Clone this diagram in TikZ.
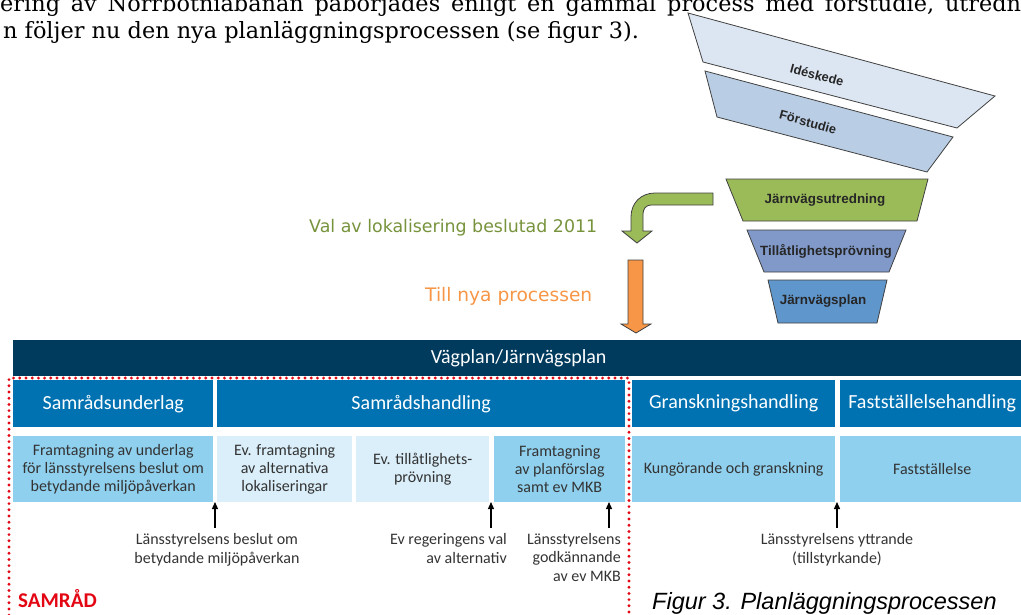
\documentclass[tikz,border=0pt]{standalone}
\usepackage{fontspec}
\setmainfont{DejaVu Serif}
\newfontfamily\tvfont{Carlito}
\newfontfamily\arialfont{Liberation Sans}
\newfontfamily\verdfont{DejaVu Sans}
\usetikzlibrary{arrows.meta}
\usepackage{color}
\definecolor{navy}{HTML}{003A5D}
\definecolor{hdrblue}{HTML}{0072B2}
\definecolor{rowmid}{HTML}{8FD0EE}
\definecolor{rowlight}{HTML}{DAEFFA}
\definecolor{samred}{HTML}{E30613}
\definecolor{idecol}{HTML}{DCE6F2}
\definecolor{forcol}{HTML}{B9CDE5}
\definecolor{utrcol}{HTML}{9BBB59}
\definecolor{tillcol}{HTML}{8099C9}
\definecolor{plancol}{HTML}{5F96CC}
\definecolor{funline}{HTML}{404040}
\definecolor{valgreen}{HTML}{77933C}
\definecolor{tillorange}{HTML}{F79646}
\definecolor{txtgray}{HTML}{333333}

\begin{document}
\begin{tikzpicture}[x=1pt,y=-1pt,
    hdr/.style={fill=hdrblue,text=white,font=\tvfont\fontsize{20}{24}\selectfont,
      minimum height=47,inner sep=0,anchor=north west},
    cellmid/.style={fill=rowmid,text=txtgray,font=\tvfont\fontsize{16}{18.3}\selectfont,
      align=center,minimum height=66,inner sep=0,anchor=north west},
    celllight/.style={cellmid,fill=rowlight},
    lbl/.style={text=txtgray,font=\tvfont\fontsize{16}{18.3}\selectfont,inner sep=0},
    funnel/.style={draw=funline,line width=0.8pt},
    funtext/.style={font=\arialfont\bfseries\fontsize{13.4}{15}\selectfont,text=black!85,inner sep=0},
    upar/.style={line width=1.3pt,-{Triangle[length=7pt,width=6pt]}}]
        \useasboundingbox (0,0) rectangle (1021,614);

        % running text above the figure
        \node[anchor=base west,inner sep=0,font=\fontsize{22.4}{27}\selectfont] (txt1) at (0,11)
          {\spaceskip=10.8pt ering av Norrbotniabanan påbörjades enligt en gammal process med förstudie, utredn};
        \node[anchor=base west,inner sep=0,font=\fontsize{22.4}{27}\selectfont] (txt2) at (3,38)
          {n följer nu den nya planläggningsprocessen (se figur 3).};

        % funnel
        \filldraw[funnel,fill=idecol] (688,13) -- (995,96) -- (957,128) -- (703,62) -- cycle;
        \filldraw[funnel,fill=forcol] (705,71) -- (953,137) -- (927,172) -- (717,117) -- cycle;
        \filldraw[funnel,fill=utrcol] (726,179) -- (928,179) -- (917,221) -- (743,221) -- cycle;
        \filldraw[funnel,fill=tillcol] (747,230) -- (906,230) -- (889,272) -- (764,272) -- cycle;
        \filldraw[funnel,fill=plancol] (768,280) -- (887,280) -- (877,323) -- (778,323) -- cycle;

        \node[funtext,font=\arialfont\bfseries\fontsize{12.8}{15}\selectfont,rotate=-15] (ideskede) at (817,75) {Idéskede};
        \node[funtext,font=\arialfont\bfseries\fontsize{12.8}{15}\selectfont,rotate=-15] (forstudie) at (808,122) {Förstudie};
        \node[funtext] (utredning) at (825,200) {Järnvägsutredning};
        \node[funtext] (tillatlighet) at (826,251) {Tillåtlighetsprövning};
        \node[funtext] (jvplan) at (823,301) {Järnvägsplan};

        % the two arrows
        \filldraw[funnel,fill=utrcol] (713,193) -- (655,193) .. controls (641,193) and (631,203) .. (631,217)
          -- (631,231) -- (622,231) -- (637,243) -- (652,231) -- (643,231) -- (643,214)
          .. controls (643,209) and (646,205) .. (651,205) -- (713,205) -- cycle;
        \filldraw[funnel,fill=tillorange] (628,260) -- (643,260) -- (643,324) -- (651,324) -- (636,333)
          -- (621,324) -- (628,324) -- cycle;

        \node[anchor=base west,inner sep=0,text=valgreen,font=\verdfont\fontsize{17.4}{20}\selectfont] (valtext) at (309,232)
          {Val av lokalisering beslutad 2011};
        \node[anchor=base west,inner sep=0,text=tillorange,font=\verdfont\fontsize{18.6}{20}\selectfont] (tilltext) at (425,301)
          {Till nya processen};

        % table
        \node[fill=navy,text=white,font=\tvfont\fontsize{20}{24}\selectfont,minimum width=1011,minimum height=36,
          inner sep=0,anchor=north west] (vagplan) at (13,340) {Vägplan/Järnvägsplan};

        \node[hdr,minimum width=200] (sunderlag) at (13,380) {Samrådsunderlag};
        \node[hdr,minimum width=408] (shandling) at (217,380) {Samrådshandling};
        \node[hdr,minimum width=203] (ghandling) at (632,380) {Granskningshandling};
        \node[hdr,minimum width=184] (fhandling) at (840,380) {Fastställelsehandling};

        \node[cellmid,minimum width=200] (framtagning) at (13,436)
          {Framtagning av underlag\\för länsstyrelsens beslut om\\betydande miljöpåverkan};
        \node[celllight,minimum width=135] (evframt) at (217,436) {Ev. framtagning\\av alternativa\\lokaliseringar};
        \node[celllight,minimum width=133] (evtill) at (356,436) {Ev. tillåtlighets-\\prövning};
        \node[cellmid,minimum width=131] (planforslag) at (494,436) {Framtagning\\av planförslag\\samt ev MKB};
        \node[cellmid,minimum width=203] (kungorande) at (632,436) {Kungörande och granskning};
        \node[cellmid,minimum width=184] (faststall) at (840,436) {Fastställelse};

        % decisions
        \coordinate (a1) at (215,528); \coordinate (b1) at (215,502);
        \coordinate (a2) at (491,528); \coordinate (b2) at (491,502);
        \coordinate (a3) at (609,528); \coordinate (b3) at (609,502);
        \coordinate (a4) at (837,528); \coordinate (b4) at (837,502);
        \draw[upar] (a1) -- (b1);
        \draw[upar] (a2) -- (b2);
        \draw[upar] (a3) -- (b3);
        \draw[upar] (a4) -- (b4);

        \node[lbl,align=center,anchor=base] (beslut) at (217,563) {Länsstyrelsens beslut om\\betydande miljöpåverkan};
        \node[lbl,align=right,anchor=base east] (regering) at (507,563) {Ev regeringens val\\av alternativ};
        \node[lbl,align=right,anchor=base east] (godkann) at (621,581) {Länsstyrelsens\\godkännande\\av ev MKB};
        \node[lbl,align=center,anchor=base] (yttrande) at (837,563) {Länsstyrelsens yttrande\\(tillstyrkande)};

        % samrad frame
        \coordinate (r1) at (9,640); \coordinate (r2) at (9,378);
        \coordinate (r3) at (629,378); \coordinate (r4) at (629,640);
        \draw[samred,line width=3.2pt,line cap=round,dash pattern=on 0pt off 6.2pt] (r1) -- (r2) -- (r3) -- (r4);
        \node[anchor=base west,inner sep=0,text=samred,font=\tvfont\bfseries\fontsize{21}{24}\selectfont] (samrad) at (18,607) {SAMRÅD};

        \node[anchor=base west,inner sep=0,font=\arialfont\itshape\fontsize{23.5}{26}\selectfont] (figur) at (652,609)
          {Figur 3. Planläggningsprocessen};
    \end{tikzpicture}
\end{document}
